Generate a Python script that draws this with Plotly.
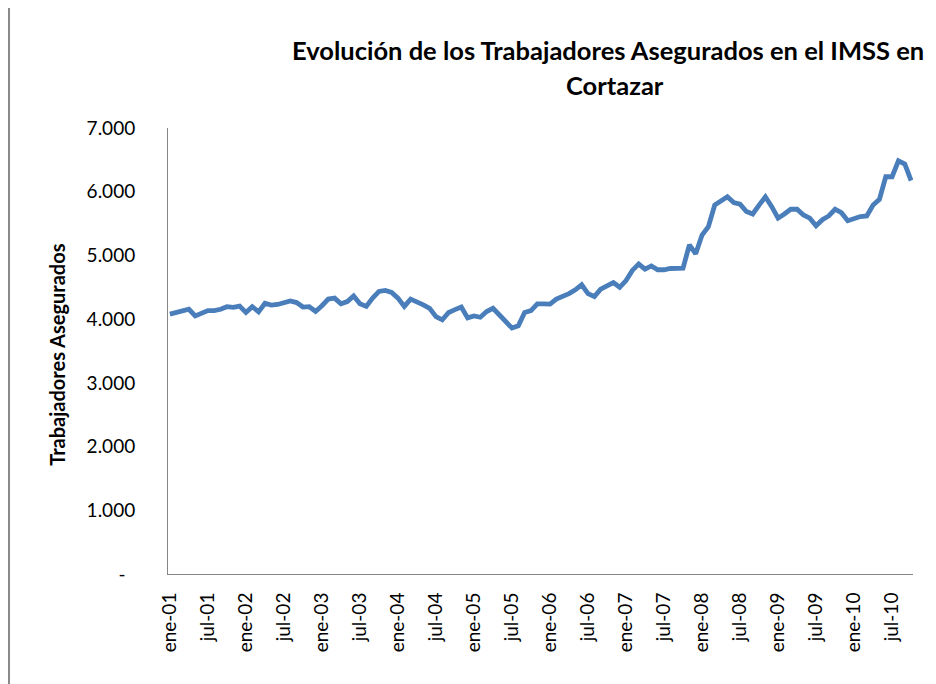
import plotly.graph_objects as go

# Data: monthly insured workers, ene-01 .. oct-10
month_abbr = ["ene", "feb", "mar", "abr", "may", "jun", "jul", "ago", "sep", "oct", "nov", "dic"]
months = [f"{month_abbr[m]}-{y:02d}" for y in range(1, 11) for m in range(12)][:118]

workers = [
    4080, 4105, 4145, 4155, 4050, 4085, 4135, 4135, 4155, 4195, 4185, 4205,
    4105, 4195, 4115, 4250, 4220, 4230, 4260, 4285, 4260, 4190, 4195, 4120,
    4210, 4315, 4330, 4240, 4275, 4365, 4240, 4200, 4330, 4435, 4450, 4420,
    4330, 4200, 4315, 4275, 4225, 4170, 4040, 3990, 4105, 4150, 4190, 4020,
    4050, 4030, 4120, 4170, 4070, 3965, 3860, 3895, 4105, 4135, 4240, 4240,
    4235, 4315, 4355, 4400, 4460, 4540, 4400, 4355, 4470, 4530, 4575, 4500,
    4605, 4765, 4865, 4785, 4835, 4775, 4775, 4795, 4795, 4800, 5165, 5025,
    5320, 5450, 5790, 5860, 5920, 5830, 5805, 5690, 5650, 5790, 5920, 5765,
    5585, 5650, 5725, 5725, 5635, 5585, 5465, 5560, 5620, 5725, 5670, 5545,
    5585, 5610, 5620, 5790, 5880, 6235, 6235, 6485, 6435, 6175,
]

x_tick_labels = [
    "ene-01", "jul-01", "ene-02", "jul-02", "ene-03", "jul-03", "ene-04", "jul-04",
    "ene-05", "jul-05", "ene-06", "jul-06", "ene-07", "jul-07", "ene-08", "jul-08",
    "ene-09", "jul-09", "ene-10", "jul-10",
]
y_tick_values = [0, 1000, 2000, 3000, 4000, 5000, 6000, 7000]
y_tick_labels = ["-\u00a0\u00a0", "1.000", "2.000", "3.000", "4.000", "5.000", "6.000", "7.000"]

title_line1 = "Evolución de los Trabajadores Asegurados en el IMSS en"
title_line2 = "Cortazar"
y_title = "Trabajadores Asegurados"

FONT = "Lato"

fig = go.Figure()
fig.add_trace(go.Scatter(
    x=months, y=workers, mode="lines",
    line=dict(color="#4A7EBB", width=4.8),
    showlegend=False,
))

fig.update_layout(
    width=936, height=684,
    margin=dict(l=160, r=31, t=120, b=118),
    paper_bgcolor="white", plot_bgcolor="white",
    font=dict(family=FONT, size=19, color="black"),
    xaxis=dict(
        type="category", range=[-0.3, 117.3],
        tickmode="array", tickvals=x_tick_labels, ticktext=x_tick_labels,
        tickangle=-90, showgrid=False, zeroline=False,
        showline=True, linecolor="#868686", linewidth=1,
        ticks="", ticklabelstandoff=10,
        tickfont=dict(family=FONT, size=19, color="black"),
    ),
    yaxis=dict(
        range=[0, 7000], tickmode="array",
        tickvals=y_tick_values, ticktext=y_tick_labels,
        showgrid=False, zeroline=False,
        showline=True, linecolor="#868686", linewidth=1,
        ticks="", ticklabelstandoff=28,
        tickfont=dict(family=FONT, size=19, color="black"),
    ),
    annotations=[
        dict(text=f"<b>{title_line1}</b>", xref="paper", yref="paper",
             x=0.591, y=1.1747, xanchor="center", yanchor="middle",
             showarrow=False, font=dict(family=FONT, size=25.5, color="black")),
        dict(text=f"<b>{title_line2}</b>", xref="paper", yref="paper",
             x=0.6, y=1.0963, xanchor="center", yanchor="middle",
             showarrow=False, font=dict(family=FONT, size=25.5, color="black")),
        dict(text=f"<b>{y_title}</b>", xref="paper", yref="paper",
             x=-0.149, y=0.4916, xanchor="center", yanchor="middle",
             textangle=-90, showarrow=False,
             font=dict(family=FONT, size=20, color="black")),
    ],
    shapes=[
        dict(type="line", xref="paper", yref="paper",
             x0=-0.2134, x1=-0.2134, y0=-0.3, y1=1.35,
             line=dict(color="#888888", width=2)),
    ],
)

fig.write_html("out.html")
